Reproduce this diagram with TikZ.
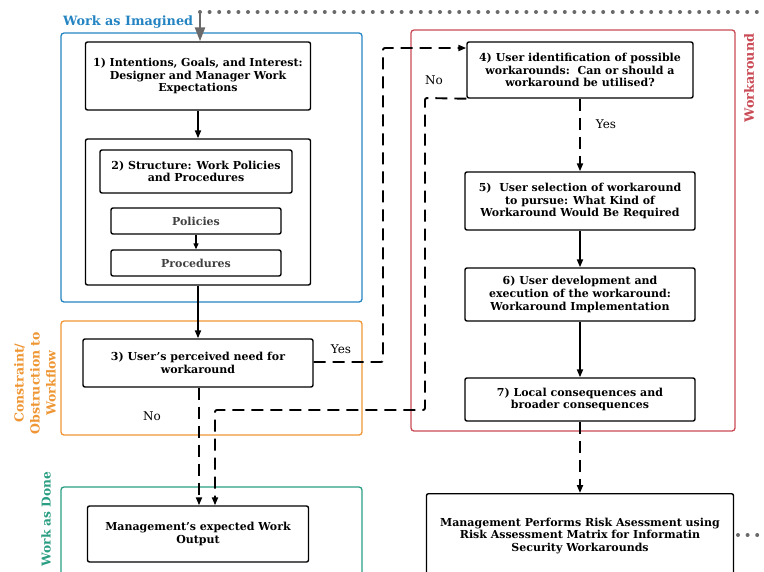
\documentclass[tikz,border=0pt]{standalone}
\usepackage{fontspec}
\setmainfont{DejaVu Serif}
\usetikzlibrary{arrows.meta}
\definecolor{cblue}{HTML}{2484C2}
\definecolor{corange}{HTML}{EF9634}
\definecolor{cred}{HTML}{C94A55}
\definecolor{cgreen}{HTML}{2A9E82}
\definecolor{cgray}{HTML}{6A6A6A}
\tikzset{
  box/.style={draw=black, line width=1.4pt, rounded corners=2pt, align=center, inner sep=2pt,
    font=\fontsize{11}{12.6}\selectfont\bfseries},
  subbox/.style={box, text=black!75},
  region/.style={line width=1.3pt, rounded corners=3pt},
  rlabel/.style={font=\fontsize{12.8}{14}\selectfont\bfseries, align=center},
  plain/.style={font=\fontsize{12}{13}\selectfont},
  arr/.style={line width=1.9pt, -{Triangle[length=8pt,width=6pt]}},
  darr/.style={arr, dash pattern=on 12pt off 7pt, rounded corners=2pt},
  dots/.style={cgray, line width=4pt, line cap=round, dash pattern=on 0pt off 9.6pt}
}
\begin{document}
\begin{tikzpicture}[x=1pt,y=-1pt]
\useasboundingbox (0,0) rectangle (764,571);
% regions
\draw[region, cblue] (61,33) rectangle (362,302);
\draw[region, corange] (61,321) rectangle (362,435);
\draw[region, cred] (411,30) rectangle (735,431);
\draw[region, cgreen] (61,487) rectangle (362,600);
\node[rlabel, text=cblue, anchor=west, inner sep=1pt] (lwi) at (62,22) {Work as Imagined};
\node[rlabel, text=corange, rotate=90, font=\fontsize{12.5}{16}\selectfont\bfseries] (lco) at (35,383) {Constraint/\\Obstruction to\\Workflow};
\node[rlabel, text=cred, rotate=90] (lwa) at (749,78) {Workaround};
\node[rlabel, text=cgreen, rotate=90, font=\fontsize{12.2}{14}\selectfont\bfseries] (lwd) at (46,519) {Work as Done};
% dots
\coordinate (dotA) at (200,12);
\coordinate (dotB) at (766,12);
\draw[dots] (dotA) -- (dotB);
\coordinate (dotC) at (738,535);
\coordinate (dotD) at (766,535);
\draw[dots] (dotC) -- (dotD);
% nodes
\node[box, minimum width=225pt, minimum height=68pt, text width=218pt] (b1) at (198,76) {1) Intentions, Goals, and Interest:\\Designer and Manager Work\\Expectations};
\node[box, minimum width=225pt, minimum height=146pt] (b2) at (198,212) {};
\node[box, minimum width=192pt, minimum height=43pt] (b2t) at (196,171.5) {2) Structure: Work Policies\\and Procedures};
\node[subbox, minimum width=170pt, minimum height=26pt] (pol) at (196,221) {Policies};
\node[subbox, minimum width=170pt, minimum height=26pt] (pro) at (196,263) {Procedures};
\node[box, minimum width=230pt, minimum height=48pt] (b3) at (198,363) {3) User's perceived need for\\workaround};
\node[box, minimum width=226pt, minimum height=56pt] (b4) at (580,70) {4) User identification of possible\\workarounds:\ \ Can or should a\\workaround be utilised?};
\node[box, minimum width=230pt, minimum height=58pt] (b5) at (580,201) {5)\ \ User selection of workaround\\to pursue: What Kind of\\Workaround Would Be Required};
\node[box, minimum width=230pt, minimum height=53pt] (b6) at (580,294.5) {6) User development and\\execution of the workaround:\\Workaround Implementation};
\node[box, minimum width=230pt, minimum height=43pt] (b7) at (580,399.5) {7) Local consequences and\\broader consequences};
\node[box, minimum width=307pt, minimum height=84pt, anchor=north] (risk) at (580,493) {Management Performs Risk Asessment using\\Risk Assessment Matrix for Informatin\\Security Workarounds};
\node[box, minimum width=221pt, minimum height=56pt] (out) at (198,534) {Management's expected Work\\Output};
% top gray arrow
\draw[cgray, line width=2.4pt, -{Triangle[length=14pt,width=10pt]}] (dotA) -- (b1.north -| dotA);
% solid arrows
\draw[arr] (b1) -- (b2);
\draw[arr, line width=1.2pt, -{Triangle[length=6pt,width=5pt]}] (pol) -- (pro);
\draw[arr] (b2) -- (b3);
\draw[arr] (b5) -- (b6);
\draw[arr] (b6) -- (b7);
% dashed
\coordinate (y1) at (383,362);
\coordinate (y2) at (383,48);
\draw[darr] (b3.east |- y1) -- (y1) -- (y2) -- (b4.west |- y2);
\node[plain] (tyes1) at (341,349) {Yes};
\draw[darr] (b3.south -| 199,0) -- (out.north -| 199,0);
\node[plain] (tno1) at (152,416) {No};
\coordinate (n1) at (425,98);
\coordinate (n2) at (425,410);
\coordinate (n3) at (215,410);
\draw[darr] (b4.south west) -- (n1) -- (n2) -- (n3) -- (out.north -| n3);
\node[plain] (tno2) at (434,80) {No};
\draw[darr] (b4) -- (b5);
\node[plain] (tyes2) at (606,124) {Yes};
\draw[darr] (b7) -- (risk);
\end{tikzpicture}
\end{document}
